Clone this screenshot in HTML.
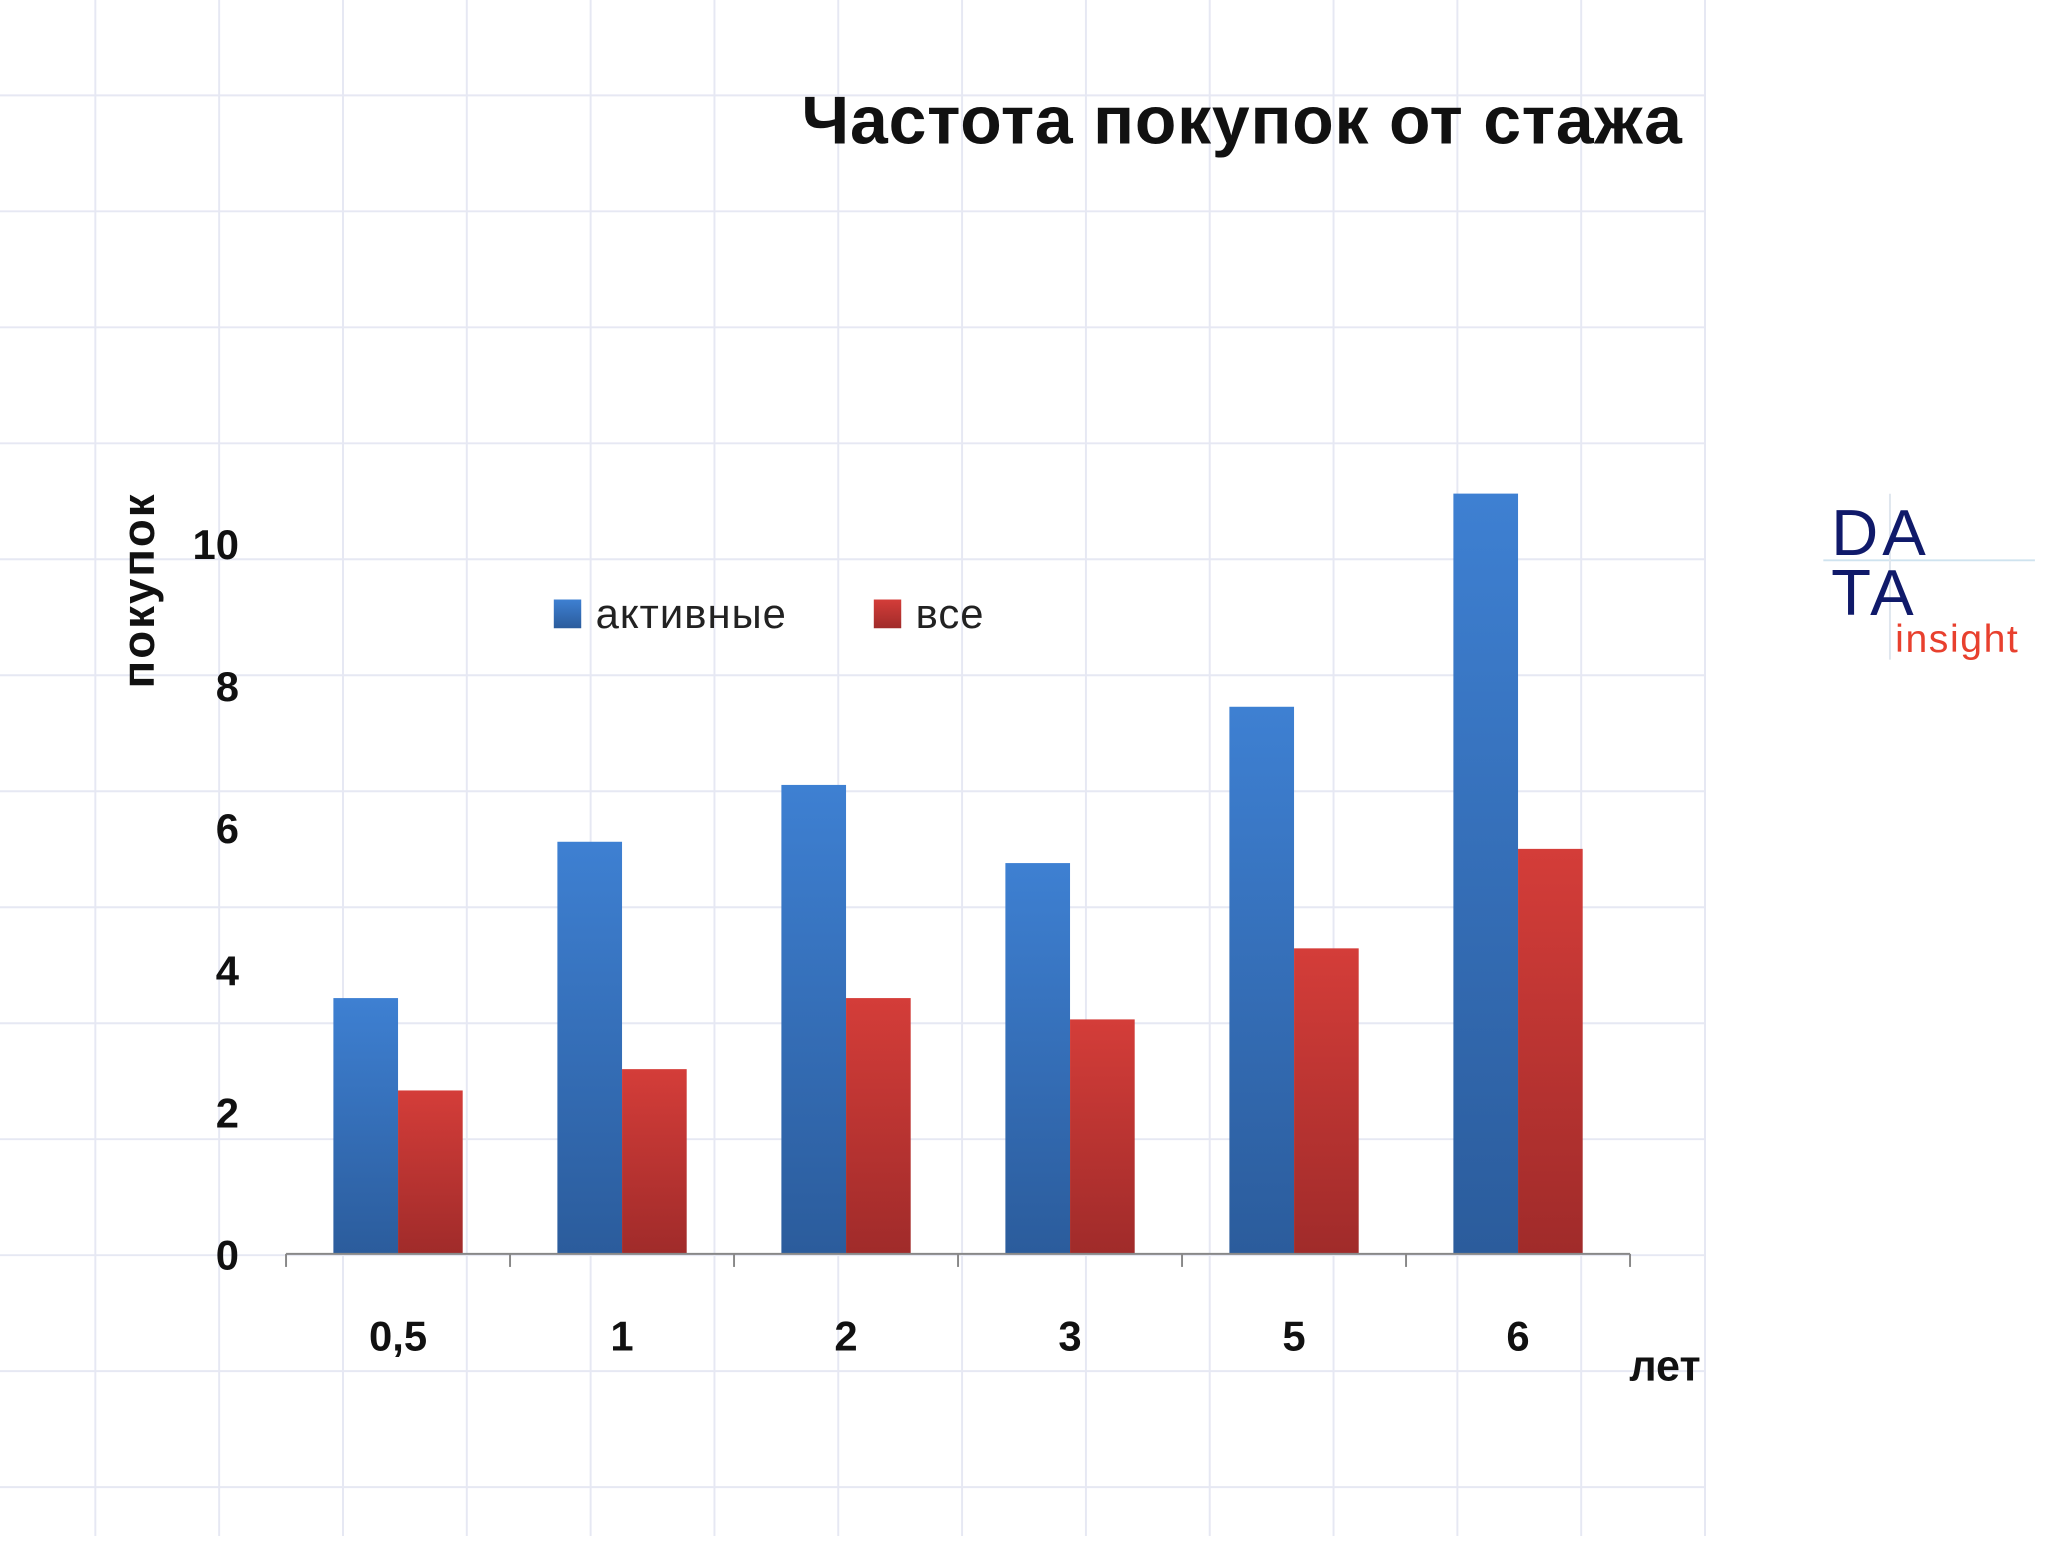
<!DOCTYPE html>
<html><head><meta charset="utf-8">
<style>
html,body{margin:0;padding:0;width:2048px;height:1536px;overflow:hidden;background:#fff}
#wrap{position:absolute;left:0;top:0;width:1568px;height:1176px;transform:scale(1.30612);transform-origin:0 0}
text{font-family:"Liberation Sans","DejaVu Sans",sans-serif}
</style></head><body>
<div id="wrap">
<svg id="chart" width="1568" height="1176" viewBox="0 0 1568 1176" xmlns="http://www.w3.org/2000/svg">
<defs>
<linearGradient id="gb" x1="0" y1="0" x2="0" y2="1"><stop offset="0" stop-color="#3e80d2"/><stop offset="1" stop-color="#2b5c9c"/></linearGradient>
<linearGradient id="gr" x1="0" y1="0" x2="0" y2="1"><stop offset="0" stop-color="#d43d39"/><stop offset="1" stop-color="#a02b2a"/></linearGradient>
</defs>
<g id="grid"></g>
<line x1="1396" y1="429" x2="1558" y2="429" stroke="#cfe3ef" stroke-width="1.5"/>
<line x1="1447" y1="378" x2="1447" y2="505" stroke="#dfe6ee" stroke-width="1.5"/>
<text x="951" y="110" text-anchor="middle" font-size="52" font-weight="bold" letter-spacing="0.6" fill="#111">Частота покупок от стажа</text>
<g id="bars"></g>
<g id="axes"></g>
<text transform="translate(118,452) rotate(-90)" text-anchor="middle" font-size="35" font-weight="bold" letter-spacing="1.5" fill="#111">покупок</text>
<text x="1302" y="1057" text-anchor="end" font-size="33" font-weight="bold" fill="#111">лет</text>
<g>
<rect x="424" y="459" width="21" height="22" fill="url(#gb)"/>
<text x="456" y="481" font-size="32" letter-spacing="0.8" fill="#222">активные</text>
<rect x="669" y="459" width="21" height="22" fill="url(#gr)"/>
<text x="701" y="481" font-size="32" letter-spacing="0.8" fill="#222">все</text>
</g>
<g>
<text x="1402" y="425" font-size="50" letter-spacing="3" fill="#101a6a">DA</text>
<text x="1402" y="471" font-size="50" letter-spacing="3" fill="#101a6a">TA</text>
<text x="1451" y="499" font-size="30" letter-spacing="1.2" fill="#e8402e">insight</text>
</g>
</svg>
</div>
<script>
const categories = ["0,5","1","2","3","5","6"];
const activeValues = [3.6, 5.8, 6.6, 5.5, 7.7, 10.7];
const allValues = [2.3, 2.6, 3.6, 3.3, 4.3, 5.7];
const yTicks = [0,2,4,6,8,10];

const NS="http://www.w3.org/2000/svg";
const x0=219, x1=1248, yBase=960, unit=54.4;
const band=(x1-x0)/categories.length;
const barW=49.5;
function yScale(v){return yBase - v*unit;}
function xBand(i){return x0 + i*band;}
function mk(tag,attrs,parent){const e=document.createElementNS(NS,tag);for(const k in attrs)e.setAttribute(k,attrs[k]);parent.appendChild(e);return e;}

const grid=document.getElementById('grid');
for(let i=0;i<14;i++){const x=73+i*94.8;
 const l=mk('line',{x1:x,y1:0,x2:x,y2:1176,stroke:'#e6e8f3','stroke-width':1.5},grid);
 
 }
for(let j=0;j<13;j++){const y=73+j*88.8;
 const l=mk('line',{x1:0,y1:y,x2:1306,y2:y,stroke:'#e6e8f3','stroke-width':1.5},grid);
 
 }

const bars=document.getElementById('bars');
categories.forEach((c,i)=>{
 const cx=xBand(i)+band/2;
 const a=activeValues[i], b=allValues[i];
 const r1=mk('rect',{x:cx-barW,y:yScale(a),width:barW,height:yBase-yScale(a),fill:'url(#gb)'},bars);
 
 
 const r2=mk('rect',{x:cx,y:yScale(b),width:barW,height:yBase-yScale(b),fill:'url(#gr)'},bars);
 
 
});

const axes=document.getElementById('axes');
const ax=mk('line',{x1:x0,y1:yBase,x2:x1,y2:yBase,stroke:'#888','stroke-width':1.5},axes);


for(let i=0;i<=categories.length;i++){
 const t=mk('line',{x1:xBand(i),y1:yBase,x2:xBand(i),y2:yBase+10,stroke:'#888','stroke-width':1.5},axes);
 
 
}
categories.forEach((c,i)=>{
 const t=mk('text',{x:xBand(i)+band/2,y:1034,'text-anchor':'middle','font-size':32,'font-weight':'bold',fill:'#111'},axes);
 t.textContent=c;
 
 
});
yTicks.forEach(v=>{
 const t=mk('text',{x:183,y:yScale(v)+12,'text-anchor':'end','font-size':32,'font-weight':'bold',fill:'#111'},axes);
 t.textContent=v;
 
 
});
</script>
</body></html>
